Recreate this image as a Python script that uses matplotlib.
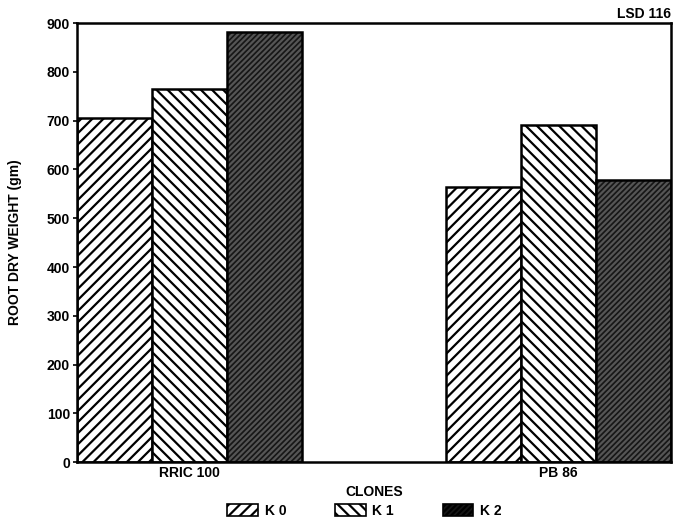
import matplotlib
matplotlib.use("Agg")
import matplotlib.pyplot as plt
import numpy as np
from matplotlib.patches import Patch

plt.rcParams['font.family'] = ['Liberation Sans', 'DejaVu Sans']
plt.rcParams['font.weight'] = 'bold'
plt.rcParams['hatch.linewidth'] = 1.6

clones = ["RRIC 100", "PB 86"]
series = ["K 0", "K 1", "K 2"]
k0 = [705, 564]
k1 = [765, 691]
k2 = [881, 578]
yticks = [0, 100, 200, 300, 400, 500, 600, 700, 800, 900]

values = [k0, k1, k2]
hatches = ['///', '\\\\\\', '//////']
faces = ['white', 'white', '#161616']
hatch_cols = ['black', 'black', '#555555']

fig = plt.figure(figsize=(6.75, 5.24), dpi=100)
ax = fig.add_axes([0.114, 0.118, 0.880, 0.838])

x = np.arange(len(clones))
w = 0.203
for i, vals in enumerate(values):
    pos = x + (i - 1) * w
    ax.bar(pos, vals, width=w, facecolor=faces[i], edgecolor=hatch_cols[i],
           hatch=hatches[i], linewidth=0)
    ax.bar(pos, vals, width=w, fill=False, edgecolor='black', linewidth=1.8)

ax.set_xlim(-1.5 * w, 1 + 1.5 * w)
ax.set_ylim(0, 900)
ax.set_yticks(yticks)
ax.set_yticklabels([str(t) for t in yticks], fontsize=10, fontweight='bold')
ax.set_xticks(x)
ax.set_xticklabels(clones, fontsize=10, fontweight='bold')
ax.tick_params(axis='x', length=0, pad=3)
ax.tick_params(axis='y', length=3, width=1.2, pad=2)
for s in ax.spines.values():
    s.set_linewidth(1.8)

ax.set_ylabel("ROOT DRY WEIGHT (gm)", fontsize=10, fontweight='bold', labelpad=18)
ax.set_xlabel("CLONES", fontsize=10, fontweight='bold', labelpad=3)
ax.text(1.0, 1.005, "LSD 116", transform=ax.transAxes, ha='right', va='bottom',
        fontsize=10, fontweight='bold')

handles = [Patch(facecolor=faces[i], edgecolor='black', hatch=hatches[i], linewidth=1.2)
           for i in range(3)]
fig.legend(handles, series, loc='lower center', bbox_to_anchor=(0.54, -0.012), ncol=3,
           frameon=False, handlelength=2.2, handleheight=1.0,
           columnspacing=3.5, handletextpad=0.5, prop={'weight': 'bold', 'size': 10})

fig.savefig("out.png", dpi=100)
